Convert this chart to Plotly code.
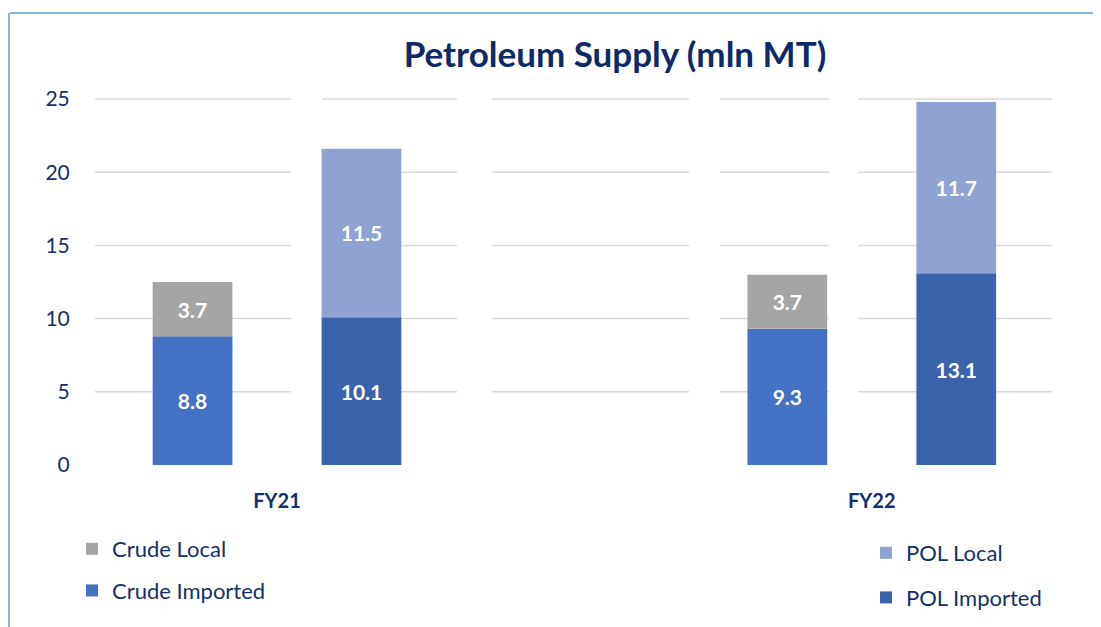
import plotly.graph_objects as go

years = ["FY21", "FY22"]
crude_imported = [8.8, 9.3]
crude_local = [3.7, 3.7]
pol_imported = [10.1, 13.1]
pol_local = [11.5, 11.7]
y_ticks = [0, 5, 10, 15, 20, 25]

W, H = 1101, 627
OFF = 8  # page body margin
ML, MT = 95 - OFF, 92 - OFF
PW, PH = 957, 378
MR, MB = W - ML - PW, H - MT - PH

def px_x(px):
    return (px - OFF - ML) / PW

def px_y(py):
    return (MT + PH - (py - OFF)) / PH

def cx(px):
    return (px - OFF) / W

def cy(py):
    return 1 - (py - OFF) / H

NAVY = "#13306B"
FONT = "Lato"

fig = go.Figure()

crude_base = crude_imported
pol_base = pol_imported

fig.add_trace(go.Bar(x=years, y=crude_imported, name="Crude Imported", offsetgroup="crude",
                     marker=dict(color="#4472C4", line=dict(width=0)), legend="legend",
                     legendgroup="ci", legendrank=2))
fig.add_trace(go.Bar(x=years, y=crude_local, base=crude_base, name="Crude Local", offsetgroup="crude",
                     marker=dict(color="#A5A5A5", line=dict(width=0)), legend="legend",
                     legendgroup="cl", legendrank=1))
fig.add_trace(go.Bar(x=years, y=pol_imported, name="POL Imported", offsetgroup="pol",
                     marker=dict(color="#3B63AC", line=dict(width=0)), legend="legend2",
                     legendgroup="pi", legendrank=2))
fig.add_trace(go.Bar(x=years, y=pol_local, base=pol_base, name="POL Local", offsetgroup="pol",
                     marker=dict(color="#8FA3D3", line=dict(width=0)), legend="legend2",
                     legendgroup="pl", legendrank=1))

fig.update_traces(texttemplate="%{y:.1f}", textposition="inside", insidetextanchor="middle",
                  textangle=0, textfont=dict(family=FONT, size=21, color="white", weight="bold"),
                  hoverinfo="skip")

# broken gridlines (as in the reference's overlaid panels)
segments = [(95, 291), (322, 457), (492, 689), (720, 829), (858, 1052)]
shapes = []
for v in y_ticks[1:]:
    for a, b in segments:
        shapes.append(dict(type="line", xref="paper", yref="y", x0=px_x(a), x1=px_x(b),
                           y0=v, y1=v, line=dict(color="#D9D9D9", width=1.5), layer="below"))
# frame lines
shapes.append(dict(type="line", xref="paper", yref="paper", x0=px_x(10), x1=px_x(W + OFF),
                   y0=px_y(13), y1=px_y(13), line=dict(color="#5B9BD5", width=1.5)))
shapes.append(dict(type="line", xref="paper", yref="paper", x0=px_x(9), x1=px_x(9),
                   y0=px_y(13), y1=px_y(H + OFF), line=dict(color="#5B9BD5", width=1.5)))

fig.update_layout(
    width=W, height=H,
    margin=dict(l=ML, r=MR, t=MT, b=MB, autoexpand=False),
    paper_bgcolor="white", plot_bgcolor="white",
    barmode="group", bargap=0.432, bargroupgap=0.528,
    title=dict(text="<b>Petroleum Supply (mln MT)</b>", x=cx(615), xref="container", xanchor="center",
               y=cy(55), yref="container", yanchor="middle",
               font=dict(family=FONT, size=35, color="#0E2A66")),
    font=dict(family=FONT, color=NAVY),
    shapes=shapes,
    xaxis=dict(range=[-0.306, 1.303], showgrid=False, zeroline=False, showline=False,
               ticks="outside", ticklen=13, tickcolor="rgba(0,0,0,0)",
               tickfont=dict(family=FONT, size=20, color=NAVY, weight="bold")),
    yaxis=dict(range=[-0.34, 25.48], tickvals=y_ticks, showgrid=False, zeroline=False, showline=False,
               ticks="outside", ticklen=20, tickcolor="rgba(0,0,0,0)",
               tickfont=dict(family=FONT, size=21, color=NAVY)),
    legend=dict(xref="container", yref="container", x=cx(72), y=cy(528),
                xanchor="left", yanchor="top", traceorder="grouped", tracegroupgap=10,
                font=dict(family=FONT, size=22, color=NAVY), bgcolor="rgba(0,0,0,0)"),
    legend2=dict(xref="container", yref="container", x=cx(866), y=cy(532),
                 xanchor="left", yanchor="top", traceorder="grouped", tracegroupgap=13,
                 font=dict(family=FONT, size=22, color=NAVY), bgcolor="rgba(0,0,0,0)"),
    showlegend=True,
)

fig.write_html("out.html")
